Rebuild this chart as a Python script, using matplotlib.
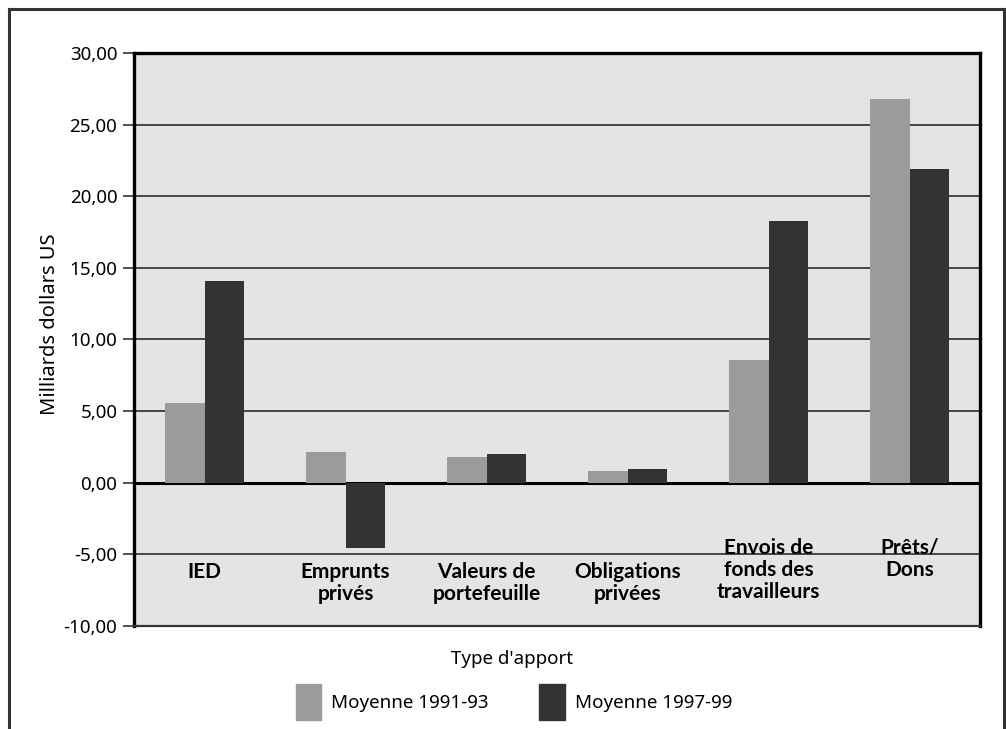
import matplotlib
matplotlib.use("Agg")
import matplotlib.pyplot as plt
from matplotlib.lines import Line2D
from matplotlib.patches import Patch
import numpy as np

plt.rcParams['font.family'] = ['Noto Sans', 'DejaVu Sans']

# data (milliards de dollars US)
categories = ["IED", "Emprunts\nprivés", "Valeurs de\nportefeuille",
              "Obligations\nprivées", "Envois de\nfonds des\ntravailleurs",
              "Prêts/\nDons"]
label_raise = [0, 0, 0, 0, 1, 1]   # some labels sit one line higher
moy_1991_93 = [5.6, 2.15, 1.8, 0.85, 8.6, 26.8]
moy_1997_99 = [14.1, -4.55, 2.0, 0.95, 18.3, 21.9]
series_names = ["Moyenne 1991-93", "Moyenne 1997-99"]
yticks = [-10, -5, 0, 5, 10, 15, 20, 25, 30]

light = "#9b9b9b"
dark = "#333333"

fig = plt.figure(figsize=(10.06, 7.29), dpi=100)
ax = fig.add_axes([0.1332, 0.1413, 0.8410, 0.7860])
ax.set_facecolor("#e4e4e4")

x = np.arange(len(categories)) + 0.5
w = 0.28
ax.bar(x - w / 2, moy_1991_93, w, color=light, zorder=3)
ax.bar(x + w / 2, moy_1997_99, w, color=dark, zorder=3)

ax.set_xlim(0, len(categories))
ax.set_ylim(-10, 30)
ax.set_yticks(yticks)
ax.set_yticklabels([("%.2f" % v).replace(".", ",") for v in yticks])
ax.tick_params(axis="y", labelsize=13.5, length=8, width=1.2, color="#333333", pad=4)
ax.set_xticks([])

for v in yticks:
    if v in (-10, 30):
        continue
    ax.axhline(v, color="black" if v == 0 else "#3a3a3a",
               lw=2.2 if v == 0 else 1.3, zorder=2)

for s in ["left", "top", "right"]:
    ax.spines[s].set_linewidth(2.4)
    ax.spines[s].set_color("black")
ax.spines["bottom"].set_linewidth(1.6)
ax.spines["bottom"].set_color("#333333")

# category labels inside the plot area
for xi, lab, r in zip(x, categories, label_raise):
    ax.text(xi, -5.5 + 1.65 * r, lab, ha="center", va="top", fontsize=15,
            family=["Lato", "DejaVu Sans"], fontweight="bold",
            linespacing=1.13, zorder=4)

ax.set_ylabel("Milliards dollars US", fontsize=14.5)
ax.yaxis.set_label_coords(-0.088, 0.527)

fig.text(0.509, 0.096, "Type d'apport", ha="center", va="center", fontsize=13.5)

handles = [Patch(color=light), Patch(color=dark)]
fig.legend(handles, series_names, loc="center", bbox_to_anchor=(0.511, 0.037),
           ncol=2, frameon=False, fontsize=13.5, handlelength=1.35, handleheight=2.6,
           handletextpad=0.55, columnspacing=2.7)

# outer frame (open at the bottom)
fc = "#333333"
fig.add_artist(Line2D([0.009, 0.009], [0, 0.988], color=fc, lw=2.2))
fig.add_artist(Line2D([0.009, 0.9985], [0.988, 0.988], color=fc, lw=2.2))
fig.add_artist(Line2D([0.9985, 0.9985], [0, 0.988], color=fc, lw=2.2))

fig.savefig("out.png", dpi=100)
